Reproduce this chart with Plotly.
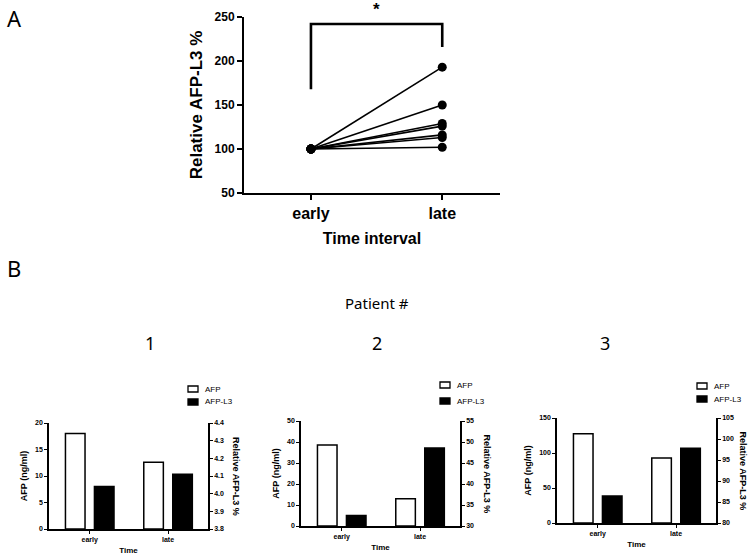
import plotly.graph_objects as go

# ---------------- data ----------------
a_categories = ["early", "late"]
a_early = [100, 100, 100, 100, 100, 100, 100]
a_late = [193, 150, 129, 126, 116, 113, 102]
bracket_x = ["early", "early", "late", "late"]
bracket_y = [168, 242, 242, 216]

b_categories = ["early", "late"]
p1_afp = [18.0, 12.6]
p1_l3 = [4.04, 4.11]
p2_afp = [38.6, 13.0]
p2_l3 = [32.5, 48.6]
p3_afp = [127.5, 92.8]
p3_l3 = [86.4, 97.8]
patients = ["1", "2", "3"]
series_names = ["AFP", "AFP-L3"]

W, H = 754, 556
FONT = "Arial, Liberation Sans, sans-serif"


def px(x):
    return x / W


def py(y):
    return 1 - y / H


def note(text, x, y, size, family="Noto Sans", angle=0, xanchor="center", weight="normal"):
    return dict(text=text, x=px(x), y=py(y), xref="paper", yref="paper",
                xanchor=xanchor, yanchor="middle", showarrow=False, textangle=angle,
                font=dict(family=family, size=size, color="black", weight=weight))


fig = go.Figure()

# ---------------- panel A ----------------
for e, l in zip(a_early, a_late):
    fig.add_trace(go.Scatter(
        x=a_categories, y=[e, l], mode="lines+markers",
        line=dict(color="black", width=1.6),
        marker=dict(color="black", size=9),
        showlegend=False, xaxis="x", yaxis="y", cliponaxis=False))

fig.add_trace(go.Scatter(
    x=bracket_x, y=bracket_y, mode="lines",
    line=dict(color="black", width=2.6), showlegend=False,
    xaxis="x", yaxis="y", cliponaxis=False))

# ---------------- panel B ----------------
sets = [(p1_afp, p1_l3), (p2_afp, p2_l3), (p3_afp, p3_l3)]
for i, (afp, l3) in enumerate(sets):
    xa = "x%d" % (i + 2)
    yl = "y%d" % (2 * i + 2)
    yr = "y%d" % (2 * i + 3)
    fig.add_trace(go.Bar(
        x=b_categories, y=afp, name=series_names[0], xaxis=xa, yaxis=yl,
        offset=-0.31, width=0.25, showlegend=False,
        marker=dict(color="white", line=dict(color="black", width=1.5))))
    fig.add_trace(go.Bar(
        x=b_categories, y=l3, name=series_names[1], xaxis=xa, yaxis=yr,
        offset=0.06, width=0.25, showlegend=False,
        marker=dict(color="black", line=dict(color="black", width=1.5))))

tickfontB = dict(family=FONT, size=7, color="black", weight="bold")
titlefontB = dict(family=FONT, size=9, color="black", weight="bold")

layout = dict(
    width=W, height=H, margin=dict(l=0, r=0, t=0, b=0, autoexpand=False),
    paper_bgcolor="white", plot_bgcolor="white",
    barmode="overlay", showlegend=False,
    font=dict(family=FONT, color="black"),
    xaxis=dict(domain=[px(244), px(500)], anchor="y", type="category",
               range=[-0.51, 1.44], showline=True, linecolor="black",
               linewidth=2, ticks="outside", ticklen=5, tickwidth=2,
               tickcolor="black", showgrid=False, zeroline=False,
               tickfont=dict(family=FONT, size=16, color="black", weight="bold"),
               title=dict(text="Time interval", standoff=12,
                          font=dict(family=FONT, size=16, color="black", weight="bold"))),
    yaxis=dict(domain=[py(193), py(17)], anchor="x", range=[50, 250],
               dtick=50, showline=True, linecolor="black", linewidth=2,
               ticks="outside", ticklen=5, tickwidth=2, tickcolor="black",
               showgrid=False, zeroline=False,
               tickfont=dict(family=FONT, size=12, color="black", weight="bold"),
               title=dict(text="Relative AFP-L3 %", standoff=8,
                          font=dict(family=FONT, size=17, color="black", weight="bold"))),
)

xdoms = [(49, 208), (301, 460), (557, 716)]
ydoms = [(529, 423), (526, 421), (523, 418)]
lranges = [([0, 20], 5), ([0, 50], 10), ([0, 150], 50)]
rranges = [([3.8, 4.4], 0.1), ([30, 55], 5), ([80, 105], 5)]
rtitle_x = [236, 487, 743]
# legend key positions: (box left, AFP row centre y, AFP-L3 row centre y)
legpos = [(188, 389, 402), (440, 385, 401), (697, 386, 399)]

ann = []
shapes = []
for i in range(3):
    xk = "xaxis%d" % (i + 2)
    ylk = "yaxis%d" % (2 * i + 2)
    yrk = "yaxis%d" % (2 * i + 3)
    xa = "x%d" % (i + 2)
    yl = "y%d" % (2 * i + 2)
    layout[xk] = dict(domain=[px(xdoms[i][0]), px(xdoms[i][1])], anchor=yl,
                      type="category", range=[-0.52, 1.51], showline=True,
                      linecolor="black", linewidth=1.5, ticks="outside",
                      ticklen=3, tickwidth=1.2, tickcolor="black",
                      showgrid=False, zeroline=False, tickfont=tickfontB,
                      title=dict(text="Time", standoff=4,
                                 font=dict(family=FONT, size=8, color="black", weight="bold")))
    layout[ylk] = dict(domain=[py(ydoms[i][0]), py(ydoms[i][1])], anchor=xa,
                       range=lranges[i][0], dtick=lranges[i][1], showline=True,
                       linecolor="black", linewidth=1.5, ticks="outside",
                       ticklen=3, tickwidth=1.2, tickcolor="black",
                       showgrid=False, zeroline=False, tickfont=tickfontB,
                       title=dict(text="AFP (ng/ml)", standoff=6, font=titlefontB))
    layout[yrk] = dict(overlaying=yl, side="right", anchor=xa,
                       range=rranges[i][0], dtick=rranges[i][1], showline=True,
                       linecolor="black", linewidth=1.5, ticks="outside",
                       ticklen=3, tickwidth=1.2, tickcolor="black",
                       showgrid=False, zeroline=False, tickfont=tickfontB,
                       tickformat=".1f" if i == 0 else "d")
    ymid = (ydoms[i][0] + ydoms[i][1]) / 2
    ann.append(note("Relative AFP-L3 %", rtitle_x[i], ymid, 9, family=FONT,
                    angle=90, weight="bold"))
    bx, r1, r2 = legpos[i]
    shapes.append(dict(type="rect", xref="paper", yref="paper",
                       x0=px(bx), x1=px(bx + 10), y0=py(r1 + 3), y1=py(r1 - 3),
                       fillcolor="white", line=dict(color="black", width=1.3)))
    shapes.append(dict(type="rect", xref="paper", yref="paper",
                       x0=px(bx), x1=px(bx + 10), y0=py(r2 + 3), y1=py(r2 - 3),
                       fillcolor="black", line=dict(color="black", width=1.3)))
    for nm, ry in zip(series_names, [r1, r2]):
        ann.append(note(nm, bx + 15, ry, 8, family=FONT, xanchor="left"))

fig.update_layout(**layout)

ann.append(dict(text="*", x=0.5, y=py(9), xref="x", yref="paper", showarrow=False,
                xanchor="center", yanchor="middle",
                font=dict(family=FONT, size=17, color="black", weight="bold")))
ann.append(note("A", 14, 18, 22))
ann.append(note("B", 14, 268, 22))
ann.append(note("Patient #", 377, 303, 15))
for name, xc in zip(patients, [150, 377, 605]):
    ann.append(note(name, xc, 343, 18))
fig.update_layout(annotations=ann, shapes=shapes)

fig.write_html("out.html", config={"displayModeBar": False},
               post_script="document.body.style.margin='0';document.body.style.padding='0';")
